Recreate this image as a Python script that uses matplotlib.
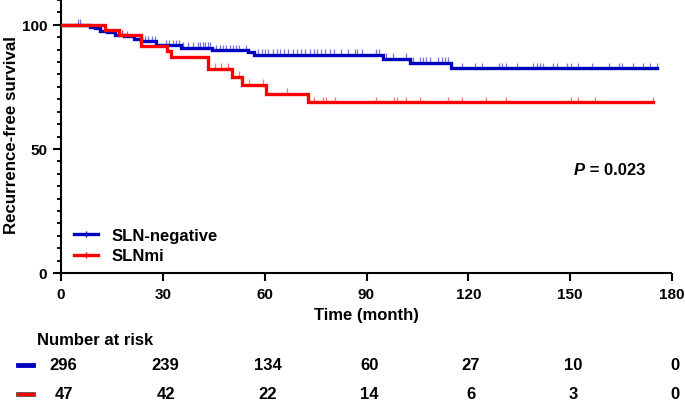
import numpy as np
import matplotlib
matplotlib.use("Agg")
from matplotlib import pyplot as plt
from matplotlib.lines import Line2D
from matplotlib.patches import Rectangle
from matplotlib.transforms import blended_transform_factory

plt.rcParams["font.family"] = ["Liberation Sans", "DejaVu Sans"]
plt.rcParams["font.weight"] = "bold"
plt.rcParams["axes.labelweight"] = "bold"

# Kaplan-Meier steps (time in months, survival % after the drop)
blue_t = [8.6, 10.0, 11.6, 13.5, 16.0, 18.5, 21.4, 23.5, 27.9, 35.3, 44.5, 55.2, 56.8, 94.8, 102.7, 114.9]
blue_s = [99.3, 98.6, 97.6, 97.0, 95.9, 95.3, 94.1, 93.3, 91.7, 90.8, 89.8, 89.0, 88.0, 86.4, 84.7, 82.4]
blue_end = 175.6
blue_cens = [4.9, 5.6, 18.0, 19.5, 23.8, 24.8, 25.7, 26.7, 27.7, 30.9, 31.9, 32.9, 33.9, 34.8,
             35.8, 37.3, 38.8, 40.3, 41.0, 41.8, 42.5, 43.3, 44.0, 45.7, 46.7, 47.7, 48.7, 49.7,
             50.7, 51.5, 52.5, 54.6, 58.1, 59.1, 60.1, 61.1, 62.4, 63.6, 64.5, 65.7, 67.0, 68.3,
             69.5, 70.7, 72.0, 73.3, 74.5, 75.5, 76.6, 77.9, 79.2, 80.4, 82.6, 84.6, 86.6, 87.3,
             88.6, 92.8, 93.6, 95.8, 97.7, 101.7, 103.7, 105.8, 106.6, 107.6, 108.8, 111.1, 112.1,
             113.1, 114.1, 118.0, 122.0, 123.9, 128.9, 129.9, 131.0, 134.2, 139.1, 140.1, 141.1,
             142.1, 145.0, 146.0, 149.2, 150.2, 152.2, 156.3, 161.4, 164.3, 165.3, 168.5, 171.5,
             173.5, 175.6]

red_t = [13.1, 17.0, 23.5, 31.1, 32.4, 43.3, 50.4, 53.2, 60.4, 72.7]
red_s = [97.9, 95.7, 91.5, 89.4, 87.0, 82.3, 79.0, 75.8, 72.3, 68.8]
red_end = 174.5
red_cens = [18.0, 45.3, 47.2, 49.2, 52.4, 55.3, 59.4, 66.5, 74.5, 77.2, 78.0, 80.6, 92.8, 98.0,
            99.0, 101.7, 105.8, 114.0, 118.0, 125.1, 131.1, 150.2, 152.2, 157.3, 174.5]

groups = ["SLN-negative", "SLNmi"]
colors = ["#0000C0", "#FF0000"]

risk_times = [0, 30, 60, 90, 120, 150, 180]
risk_blue = [296, 239, 134, 60, 27, 10, 0]
risk_red = [47, 42, 22, 14, 6, 3, 0]

p_text = "0.023"


def km_xy(t, s, end):
    x = [0] + list(t) + [end]
    y = [100] + list(s) + [s[-1]]
    return x, y


def surv_at(t, s, times):
    t = np.asarray(t)
    s = np.asarray(s)
    out = []
    for c in times:
        idx = np.searchsorted(t, c, side="right") - 1
        out.append(100.0 if idx < 0 else s[idx])
    return np.array(out)


fig = plt.figure(figsize=(6.85, 4.02), dpi=100)
ax = fig.add_axes([61 / 685, 1 - 274 / 402, 611 / 685, 273 / 402])

curves = [(blue_t, blue_s, blue_end, blue_cens), (red_t, red_s, red_end, red_cens)]
for (t, s, end, cens), col in zip(curves, colors):
    x, y = km_xy(t, s, end)
    ax.step(x, y, where="post", color=col, lw=2.4, solid_joinstyle="miter", zorder=3)
    cy = surv_at(t, s, cens)
    ax.vlines(cens, cy, cy + 2.2, color=col, lw=0.9, alpha=0.55, zorder=2)

ax.set_xlim(0, 180)
ax.set_ylim(0, 110)
ax.set_xticks(range(0, 181, 30))
ax.set_yticks([0, 50, 100])
ax.set_yticks(np.arange(0, 111, 5), minor=True)
ax.tick_params(axis="both", which="major", length=6, width=1.5, labelsize=11, pad=4)
ax.tick_params(axis="y", which="minor", length=3, width=1.3)
for side in ["top", "right"]:
    ax.spines[side].set_visible(False)
for side in ["left", "bottom"]:
    ax.spines[side].set_linewidth(1.5)
    ax.spines[side].set_capstyle("butt")

ax.set_ylabel("Recurrence-free survival", fontsize=12.2, fontweight="bold")
ax.yaxis.set_label_coords(-0.068, 0.51)

handles = [Line2D([0], [0], color=c, lw=2.4, marker="|", markersize=5, markeredgewidth=1)
           for c in colors]
ax.legend(handles, groups, loc="lower left", bbox_to_anchor=(0.022, 0.035), frameon=False,
          fontsize=12, handlelength=1.4, handletextpad=0.8, labelspacing=0.35,
          borderpad=0, borderaxespad=0)

ax.text(154.4, 41.9, "P", style="italic", fontsize=12, ha="right", va="center")
ax.text(154.4, 41.9, " = " + p_text, fontsize=12, ha="left", va="center")

fig.text(366 / 685, 1 - 316 / 402, "Time (month)", fontsize=12, ha="center", va="center")
fig.text(37 / 685, 1 - 341 / 402, "Number at risk", fontsize=12, ha="left", va="center")

tr = blended_transform_factory(ax.transData, fig.transFigure)
rows_y = [1 - 366 / 402, 1 - 395 / 402]
for vals, ry, col in zip([risk_blue, risk_red], rows_y, colors):
    for tt, v in zip(risk_times, vals):
        ax.text(tt + 0.8, ry, str(v), transform=tr, fontsize=12, ha="center", va="center",
                clip_on=False)
    fig.patches.append(Rectangle((16 / 685, ry - 2 / 402), 19 / 685, 4 / 402,
                                 transform=fig.transFigure, facecolor=col,
                                 edgecolor="#555555" if col == "#FF0000" else col, lw=0.6))

fig.savefig("out.png", dpi=100)
